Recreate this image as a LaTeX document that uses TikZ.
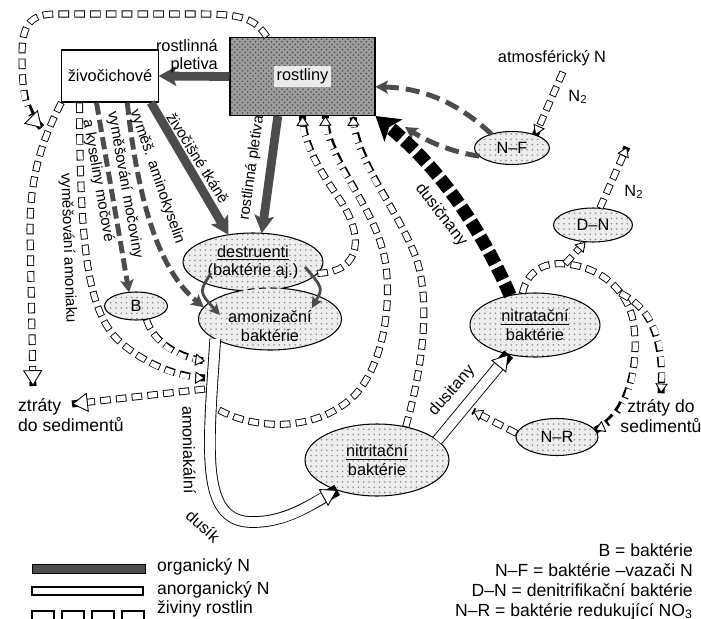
\documentclass[tikz,border=0pt]{standalone}
\usepackage{fontspec}
\setmainfont{Liberation Sans}
\usetikzlibrary{arrows.meta,shapes.geometric,patterns,calc}

\definecolor{orgcol}{gray}{0.3}
\newcommand\tagfont{\fontsize{8.6}{10}\selectfont}
\newcommand\legfont{\fontsize{10}{11.4}\selectfont}

\tikzset{
  bact/.style={ellipse, draw, line width=0.6pt, inner sep=0pt, outer sep=0pt,
    align=center, preaction={fill=black!7}, pattern=dots, pattern color=black!45},
  animbox/.style={rectangle, draw, line width=0.6pt, fill=white,
    minimum width=1.8cm, minimum height=1.04cm},
  plantbox/.style={rectangle, draw, line width=0.6pt, preaction={fill=black!38},
    pattern=crosshatch dots, pattern color=black!70,
    minimum width=2.9cm, minimum height=1.56cm},
  orgN/.style={draw=orgcol, line width=5pt,
    -{Stealth[length=10pt,width=11pt,inset=2pt]}},
  orgthin/.style={draw=orgcol, line width=1.6pt,
    -{Stealth[length=6pt,width=6pt,inset=1pt]}},
  orgdash/.style={draw=orgcol, line width=2.8pt, dash pattern=on 7pt off 3pt,
    -{Stealth[length=7pt,width=7.5pt,inset=1.5pt]}},
  fixdash/.style={orgdash, dash pattern=on 8pt off 4pt},
  nitrate/.style={draw=black, line width=7.5pt, dash pattern=on 7.5pt off 2.5pt,
    -{Stealth[length=13pt,width=16pt,inset=3pt]}},
  inorg/.style={draw=white, line width=5.6pt,
    preaction={draw=black, -, line width=6.6pt},
    -{Triangle[length=9pt,width=11pt,fill=white,color=black,line width=0.5pt]}},
  nutr/.style={draw=white, line width=3pt, dash pattern=on 5pt off 4pt, dash phase=8.5pt,
    preaction={draw=black, -, line width=4pt, dash pattern=on 6pt off 3pt, dash phase=0pt},
    -{Triangle[length=5.5pt,width=7pt,fill=white,color=black,line width=0.5pt]}},
  bignutr/.style={nutr,
    -{Triangle[length=9pt,width=11pt,fill=white,color=black,line width=0.5pt]}},
}

\begin{document}
\begin{tikzpicture}[x=0.02cm, y=-0.02cm, every node/.style={font=\fontsize{9.3}{10.5}\selectfont}]
\useasboundingbox (0,0) rectangle (701,619);

\node[animbox] (ziv) at (110,76) {živočichové};
\node[plantbox] (rost) at (302.5,76.5) {};
\node[fill=black!8, inner sep=1.5pt] (rostlbl) at (rost) {rostliny};

\node[bact, minimum width=2.8cm, minimum height=1.16cm] (des) at (253,262) {\underline{destruenti}\\(baktérie aj.)};
\node[bact, draw=none, minimum width=2.86cm, minimum height=1.24cm] (amo) at (270,319) {};
\begin{scope}
  \clip (des.center) ellipse [x radius=70, y radius=29];
  \draw[line width=0.6pt, dash pattern=on 4pt off 2.5pt] (amo.center) ellipse [x radius=71.5, y radius=31];
\end{scope}
\begin{scope}[even odd rule]
  \clip (0,0) rectangle (701,619) (des.center) ellipse [x radius=70, y radius=29];
  \draw[line width=0.6pt] (amo.center) ellipse [x radius=71.5, y radius=31];
\end{scope}
\node[align=center] (amolbl) at (270,326) {amonizační\\baktérie};

\node[bact, minimum width=1.26cm, minimum height=0.56cm] (bb) at (136,306) {B};
\node[bact, minimum width=2.6cm, minimum height=1.28cm] (nat) at (535,325) {\underline{nitratační}\\baktérie};
\node[bact, minimum width=1.64cm, minimum height=0.74cm] (nr) at (557,437) {N–R};
\node[bact, minimum width=2.88cm, minimum height=1.44cm] (nit) at (377,460) {\underline{nitritační}\\baktérie};
\node[bact, minimum width=1.5cm, minimum height=0.66cm] (nf) at (512,148) {N–F};
\node[bact, minimum width=1.58cm, minimum height=0.68cm] (dn) at (593,225) {D–N};

\node (atm) at (552,58) {atmosférický N};
\node (nA) at (578,97) {N\textsubscript{2}};
\node (nB) at (634,192) {N\textsubscript{2}};
\node[anchor=west, align=left, font=\legfont] (ztrL) at (12,415) {ztráty\\do sedimentů};
\node[align=center, font=\legfont] (ztrR) at (661,416) {ztráty do\\sedimentů};

\coordinate (nfend) at (405,127);
\coordinate (nrend) at (473,411);
\coordinate (dnout) at (627,147);
\coordinate (loopend) at (42,128);
\coordinate (lossL) at (33,386);
\coordinate (lossM) at (72,404);
\coordinate (jB) at (205,361);
\coordinate (jV) at (205,378);
\coordinate (jZ) at (205,389);
\coordinate (jA) at (219,410);
\coordinate (nb1) at (565,264);
\coordinate (nb2) at (620,293);

\draw[inorg] (amo.-160) .. controls (208,450) and (200,520) .. (250,522)
  .. controls (285,523) and (310,505) .. (nit.217);
\draw[inorg] (nit.18) -- (nat.-132);

\draw[bignutr] (rost.132) .. controls (255,18) and (240,14) .. (200,14) -- (55,14)
  .. controls (28,14) and (22,28) .. (22,55) .. controls (22,95) and (26,112) .. (loopend);
\draw[bignutr] (ziv.south west) .. controls (45,135) and (30,170) .. (30,230) -- (lossL);
\draw[nutr] (ziv.-139) .. controls (80,250) and (88,310) .. (118,340)
  .. controls (145,365) and (180,377) .. (jV);
\draw[nutr] (bb.-52) .. controls (152,338) and (172,356) .. (jB);
\draw[bignutr] (jZ) -- (lossM);
\draw[nutr] (des.-10) .. controls (365,272) and (362,232) .. (340,200)
  .. controls (318,168) and (303,142) .. (rost.south);
\draw[nutr] (jA) .. controls (260,432) and (320,430) .. (355,395)
  .. controls (385,362) and (392,300) .. (385,260)
  .. controls (375,205) and (326,160) .. (rost.-60);
\draw[nutr] (nit.49) .. controls (422,370) and (432,300) .. (415,255)
  .. controls (395,205) and (355,160) .. (rost.-38);
\draw[nutr] (nat.112) .. controls (528,268) and (548,262) .. (nb1)
  .. controls (595,266) and (625,285) .. (633,320)
  .. controls (640,360) and (630,415) .. (nr.10);
\draw[nutr] (nb1) -- (dn.-114);
\draw[nutr] (nb2) .. controls (645,305) and (665,330) .. (ztrR.north);
\draw[nutr] (nr.175) -- (nrend);
\draw[nutr] ([xshift=0.22cm]atm.south) -- (nf.29);
\draw[nutr] (dn.68) -- (dnout);

\draw[orgN] (rost.west) -- (ziv.east);
\draw[orgN] (ziv.-33) -- (des.132);
\draw[orgN] (rost.-122) -- (des.73);
\draw[orgdash] (ziv.-117) -- (bb.117);
\draw[orgdash] (ziv.-57) .. controls (140,220) and (165,275) .. (amo.170);
\draw[fixdash] (nf.146) .. controls (455,100) and (420,88) .. (rost.-8);
\draw[fixdash] (nf.194) .. controls (450,152) and (425,140) .. (nfend);
\draw[nitrate] (nat.130) .. controls (475,215) and (430,160) .. (rost.south east);
\draw[orgthin] ($(des)+(-42,11)$) .. controls ($(des)+(-54,30)$) .. ($(amo)+(-50,-4)$);
\draw[orgthin] ($(des)+(52,5)$) .. controls ($(des)+(70,26)$) .. ($(amo)+(42,-11)$);

\node[anchor=east, align=right] (rpA) at (224,56) {rostlinná\\pletiva};
\node[rotate=-58, font=\tagfont] (zt) at (198,158) {živočišné tkáně};
\node[rotate=82, font=\tagfont] (rpB) at (252,168) {rostlinná pletiva};
\node[rotate=-71, font=\tagfont] (vam) at (157,177) {vyměš. aminokyselin};
\node[rotate=-80, font=\tagfont] (vmocA) at (125,185) {vyměšování močoviny};
\node[rotate=-80, font=\tagfont] (vmocB) at (98,181) {a kyseliny močové};
\node[rotate=-88, font=\tagfont] (vamon) at (68,248) {vyměšování amoniaku};
\node[rotate=-89] (amk) at (189,450) {amoniakální};
\node[rotate=-42] (dsk) at (203,526) {dusík};
\node[rotate=49] (dsn) at (452,391) {dusitany};
\node[rotate=-52] (dcn) at (441,215) {dusičnany};

\draw[fill=orgcol] (32,564) rectangle (145,573);
\draw[line width=0.6pt] (32,587) rectangle (143,595);
\foreach \x in {32,62,92,122} \draw[line width=0.6pt] (\x,611) rectangle ++(22,9);
\node[anchor=west, font=\legfont] (lgA) at (151,567) {organický N};
\node[anchor=west, font=\legfont] (lgB) at (151,590) {anorganický N};
\node[anchor=west, font=\legfont] (lgC) at (151,609) {živiny rostlin};
\node[anchor=north east, align=right, font=\legfont] (key) at (699,537)
  {B = baktérie\\N–F = baktérie –vazači N\\D–N = denitrifikační baktérie\\N–R = baktérie redukující NO\textsubscript{3}};
\end{tikzpicture}
\end{document}
